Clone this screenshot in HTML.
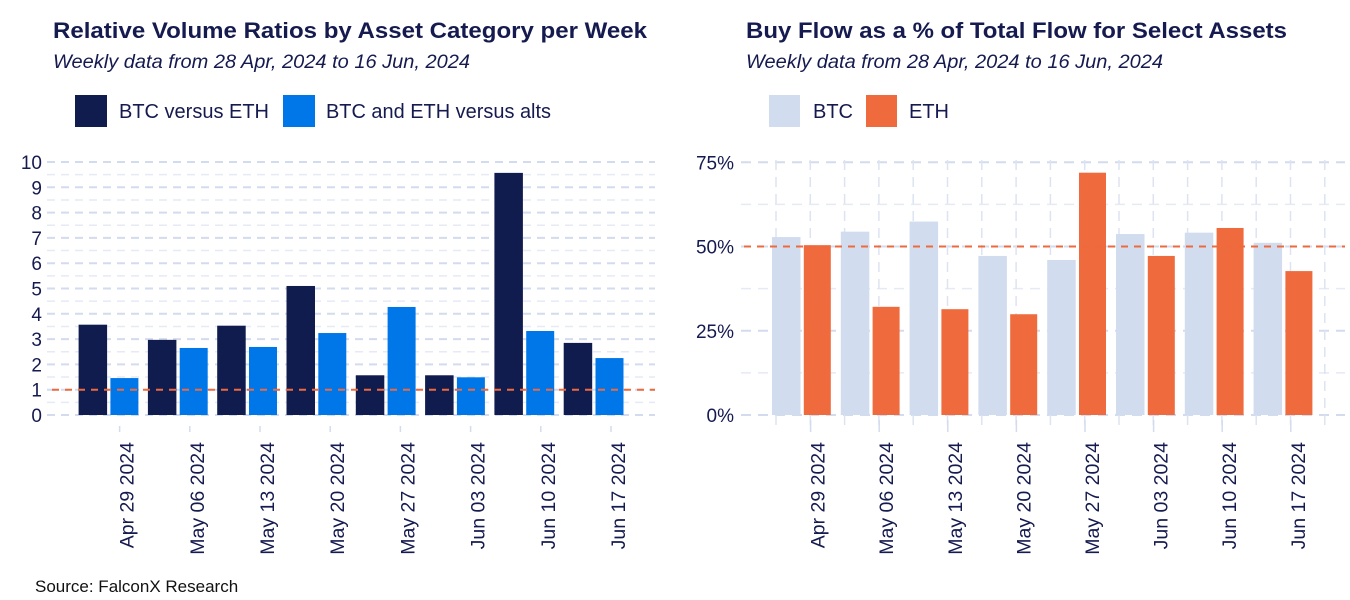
<!DOCTYPE html>
<html><head><meta charset="utf-8"><style>
body{margin:0;background:#fff;}
svg{display:block;font-family:"Liberation Sans",sans-serif;}
</style></head><body>
<svg id="c" width="1350" height="600"></svg>
<script>
const dates=["Apr 29 2024","May 06 2024","May 13 2024","May 20 2024","May 27 2024","Jun 03 2024","Jun 10 2024","Jun 17 2024"];
const btcEth=[3.57,2.97,3.53,5.1,1.57,1.57,9.57,2.85];
const btcEthAlts=[1.46,2.65,2.69,3.24,4.27,1.49,3.32,2.25];
const leftTicks=[0,1,2,3,4,5,6,7,8,9,10];
const btcBuy=[52.8,54.4,57.4,47.2,46.0,53.7,54.1,51.1];
const ethBuy=[50.4,32.1,31.4,29.9,71.9,47.2,55.5,42.7];
const rightTicks=[0,25,50,75];

const svg=document.getElementById('c');
const NS='http://www.w3.org/2000/svg';
function mk(tag,attrs,txt){const e=document.createElementNS(NS,tag);for(const k in attrs)e.setAttribute(k,attrs[k]);if(txt!=null)e.textContent=txt;svg.appendChild(e);return e;}
const ink='#151a4f';
let e;

// ---------- Left chart ----------
const ly=v=>415-v*25.3;
const lx=i=>78.6+i*69.3;
for(let v=0;v<=10;v+=0.5){
  const maj=Number.isInteger(v);
  e=mk('line',{x1:47,x2:655,y1:ly(v),y2:ly(v),stroke:maj?'#d3dcee':'#e6eaf5','stroke-width':maj?2:1.5,'stroke-dasharray':'8 6'});
  
  
}
leftTicks.forEach(v=>{
  e=mk('text',{x:42,y:ly(v)+7,'text-anchor':'end','font-size':19,fill:ink},v);
  
  
});
btcEth.forEach((v,i)=>{
  const r=mk('rect',{x:lx(i),y:ly(v),width:28.5,height:ly(0)-ly(v),fill:'#111c4e'});
  
  
});
btcEthAlts.forEach((v,i)=>{
  const r=mk('rect',{x:lx(i)+31.8,y:ly(v),width:28,height:ly(0)-ly(v),fill:'#0077e8'});
  
  
});
e=mk('line',{x1:52,x2:655,y1:ly(1),y2:ly(1),stroke:'#ee6a3d','stroke-width':2,'stroke-dasharray':'7 6'});


dates.forEach((d,i)=>{
  const tx=119.6+i*70.2;
  e=mk('line',{x1:tx,x2:tx,y1:426,y2:432,stroke:'#d3dcee','stroke-width':1.5});
  
  
  e=mk('text',{x:0,y:0,'text-anchor':'end','font-size':19.5,fill:ink,transform:`translate(${tx+14},442) rotate(-90)`},d);
  
  
});
e=mk('text',{x:53,y:38,'font-size':22,'font-weight':'bold',fill:ink,textLength:594,lengthAdjust:'spacingAndGlyphs'},'Relative Volume Ratios by Asset Category per Week');

e=mk('text',{x:53,y:68,'font-size':19,'font-style':'italic',fill:ink,textLength:417,lengthAdjust:'spacingAndGlyphs'},'Weekly data from 28 Apr, 2024 to 16 Jun, 2024');

e=mk('rect',{x:75,y:95,width:32,height:32,fill:'#111c4e'});

e=mk('text',{x:119,y:118,'font-size':20,fill:ink,textLength:150,lengthAdjust:'spacingAndGlyphs'},'BTC versus ETH');

e=mk('rect',{x:283,y:95,width:32,height:32,fill:'#0077e8'});

e=mk('text',{x:326,y:118,'font-size':20,fill:ink,textLength:225,lengthAdjust:'spacingAndGlyphs'},'BTC and ETH versus alts');


// ---------- Right chart ----------
const ry=v=>415-v*3.37;
const rx=i=>772+i*68.8;
for(let v=0;v<=75;v+=12.5){
  const maj=v%25===0;
  e=mk('line',{x1:741,x2:1345,y1:ry(v),y2:ry(v),stroke:maj?'#d3dcee':'#e6eaf5','stroke-width':maj?2:1.5,'stroke-dasharray':'10 7'});
  
}
for(let x=776;x<1346;x+=34.3){
  e=mk('line',{x1:x,x2:x,y1:160,y2:428,stroke:'#dde3f2','stroke-width':1.5,'stroke-dasharray':'10 7'});
  
}
rightTicks.forEach(v=>{
  e=mk('text',{x:734,y:ry(v)+7,'text-anchor':'end','font-size':19,fill:ink},v+'%');
  
});
btcBuy.forEach((v,i)=>{
  const r=mk('rect',{x:rx(i),y:ry(v),width:28.5,height:ry(0)-ry(v),fill:'#d1dcee'});
  
  
});
ethBuy.forEach((v,i)=>{
  const r=mk('rect',{x:rx(i)+31.8,y:ry(v),width:27,height:ry(0)-ry(v),fill:'#ef6a3c'});
  
  
});
e=mk('line',{x1:744,x2:1345,y1:ry(50),y2:ry(50),stroke:'#ee6a3d','stroke-width':2,'stroke-dasharray':'7 6'});

dates.forEach((d,i)=>{
  const tx=810.6+i*68.6;
  e=mk('line',{x1:tx,x2:tx,y1:420,y2:432,stroke:'#d3dcee','stroke-width':1.5});
  
  e=mk('text',{x:0,y:0,'text-anchor':'end','font-size':19.5,fill:ink,transform:`translate(${tx+14},442) rotate(-90)`},d);
  
  
});
e=mk('text',{x:746,y:38,'font-size':22,'font-weight':'bold',fill:ink,textLength:541,lengthAdjust:'spacingAndGlyphs'},'Buy Flow as a % of Total Flow for Select Assets');

e=mk('text',{x:746,y:68,'font-size':19,'font-style':'italic',fill:ink,textLength:417,lengthAdjust:'spacingAndGlyphs'},'Weekly data from 28 Apr, 2024 to 16 Jun, 2024');

e=mk('rect',{x:769,y:95,width:31,height:32,fill:'#d1dcee'});

e=mk('text',{x:813,y:118,'font-size':20,fill:ink},'BTC');

e=mk('rect',{x:866,y:95,width:31,height:32,fill:'#ef6a3c'});

e=mk('text',{x:909,y:118,'font-size':20,fill:ink},'ETH');


e=mk('text',{x:35,y:592,'font-size':17,fill:'#111'},'Source: FalconX Research');

</script>
</body></html>
